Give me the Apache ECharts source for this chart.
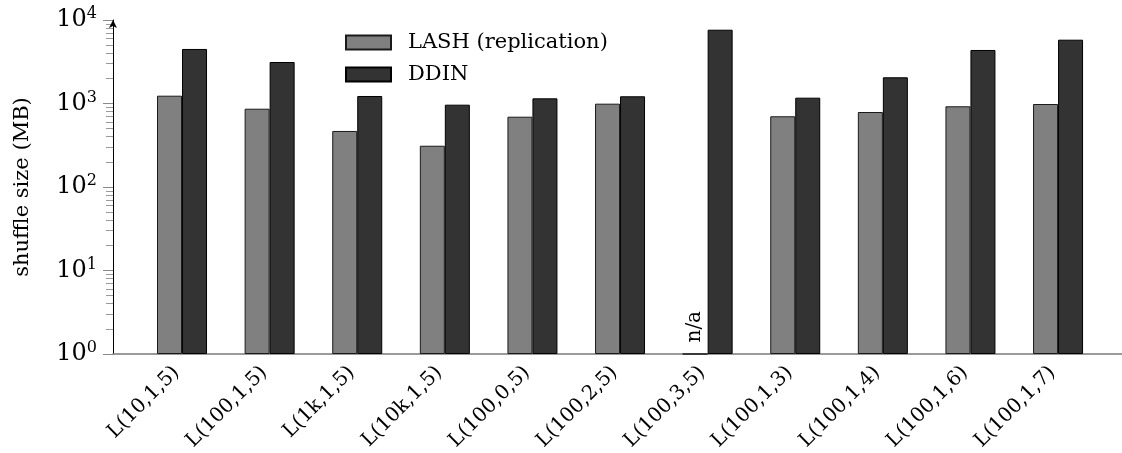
<!DOCTYPE html>
<html>
<head>
<meta charset="utf-8">
<script src="https://cdn.jsdelivr.net/npm/echarts@6/dist/echarts.min.js"></script>
<style>
  html, body { margin: 0; padding: 0; background: #fff; }
  #chart { width: 1122px; height: 453px; }
</style>
</head>
<body>
<div id="chart"></div>
<script>
// Workload configurations on the x axis
const categories = ['L(10,1,5)', 'L(100,1,5)', 'L(1k,1,5)', 'L(10k,1,5)', 'L(100,0,5)', 'L(100,2,5)',
                    'L(100,3,5)', 'L(100,1,3)', 'L(100,1,4)', 'L(100,1,6)', 'L(100,1,7)'];
// Shuffle size in MB (null = not available)
const lashValues = [1240, 866, 469, 312, 695, 995, null, 703, 791, 926, 986];
const ddinValues = [4500, 3140, 1230, 968, 1153, 1220, 7650, 1174, 2060, 4375, 5810];
const seriesNames = ['LASH (replication)', 'DDIN'];
const yMajorTicks = [1, 10, 100, 1000, 10000];
const yMinorTicks = [];
for (const decade of [1, 10, 100, 1000]) {
  for (let m = 2; m <= 9; m++) yMinorTicks.push(m * decade);
}

const FONT = 'DejaVu Serif';
const idx = categories.map((_, i) => i);

const lashData = lashValues.map((v, i) => v === null
  ? { value: [i, 1], label: { show: true, formatter: 'n/a' } }
  : { value: [i, v] });
const ddinData = ddinValues.map((v, i) => ({ value: [i, v] }));

const chart = echarts.init(document.getElementById('chart'), null, { renderer: 'canvas' });
chart.setOption({
  animation: false,
  backgroundColor: '#ffffff',
  grid: { left: 113, right: 0, top: 20, bottom: 99, containLabel: false, outerBoundsMode: 'none' },
  legend: {
    orient: 'vertical',
    left: 340,
    top: 27,
    itemWidth: 45,
    itemHeight: 14,
    itemGap: 11,
    icon: 'rect',
    textStyle: { fontFamily: FONT, fontSize: 21, color: '#000', padding: [0, 0, 0, 12] },
    data: seriesNames
  },
  xAxis: {
    type: 'value',
    min: -0.788,
    max: 10.73,
    splitLine: { show: false },
    axisTick: { show: false },
    axisLine: { show: true, onZero: false, lineStyle: { color: '#7a7a7a', width: 1.5 } },
    axisLabel: {
      customValues: idx,
      rotate: 45,
      margin: 10,
      padding: [0, 8, 0, 0],
      fontFamily: FONT,
      fontSize: 20,
      color: '#000',
      formatter: v => categories[Math.round(v)] || ''
    }
  },
  yAxis: [
    {
      type: 'log',
      logBase: 10,
      min: 1,
      max: 10000,
      name: 'shuffle size (MB)',
      nameLocation: 'middle',
      nameRotate: 90,
      nameGap: 80,
      nameTextStyle: { fontFamily: FONT, fontSize: 21, color: '#000' },
      splitLine: { show: false },
      axisLine: { show: true, onZero: false, lineStyle: { color: '#000', width: 1 }, symbol: ['none', 'arrow'], symbolSize: [6, 8] },
      axisTick: { show: true, customValues: yMajorTicks, length: 10, lineStyle: { color: '#8a8a8a', width: 1 } },
      axisLabel: {
        customValues: yMajorTicks,
        margin: 16,
        color: '#000',
        formatter: v => '{b|10}{s|' + Math.round(Math.log10(v)) + '}',
        rich: {
          b: { fontFamily: FONT, fontSize: 24, lineHeight: 28, color: '#000' },
          s: { fontFamily: FONT, fontSize: 16, lineHeight: 16, verticalAlign: 'top', color: '#000' }
        }
      }
    },
    {
      type: 'log',
      logBase: 10,
      min: 1,
      max: 10000,
      position: 'left',
      splitLine: { show: false },
      axisLine: { show: false, onZero: false },
      axisTick: { show: true, customValues: yMinorTicks, length: 7, lineStyle: { color: '#9a9a9a', width: 1 } },
      axisLabel: { show: false }
    }
  ],
  series: [
    {
      name: seriesNames[0],
      type: 'bar',
      yAxisIndex: 0,
      barWidth: 25,
      barGap: '0%',
      itemStyle: { color: '#808080', borderColor: '#1a1a1a', borderWidth: 1 },
      label: {
        show: false,
        position: 'top',
        rotate: 90,
        align: 'left',
        verticalAlign: 'middle',
        distance: 11,
        fontFamily: FONT,
        fontSize: 20,
        color: '#000'
      },
      data: lashData
    },
    {
      name: seriesNames[1],
      type: 'bar',
      yAxisIndex: 0,
      barWidth: 25,
      barGap: '0%',
      itemStyle: { color: '#333333', borderColor: '#000', borderWidth: 1 },
      data: ddinData
    }
  ]
});
</script>
</body>
</html>
